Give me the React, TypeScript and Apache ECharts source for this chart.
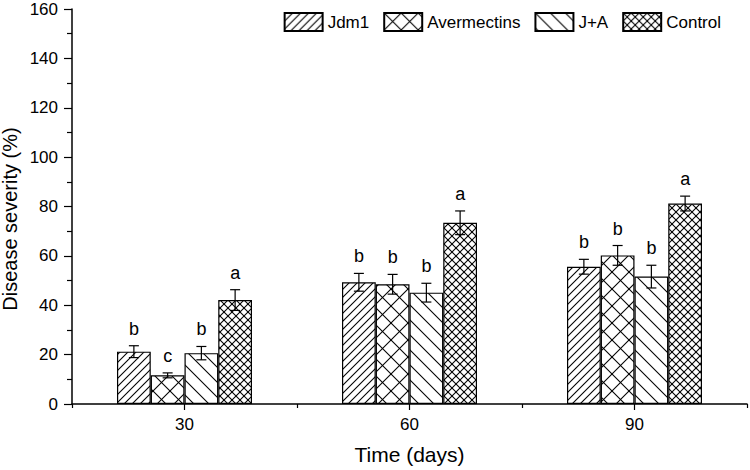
import React, { useEffect, useRef } from 'react';
import * as echarts from 'echarts';

const categories = ['30', '60', '90'];
const seriesNames = ['Jdm1', 'Avermectins', 'J+A', 'Control'];

const jdm1 = [21.2, 49.3, 55.6];
const jdm1Err = [2.4, 3.6, 3.0];
const jdm1Letters = ['b', 'b', 'b'];

const avermectins = [11.6, 48.5, 60.2];
const avermectinsErr = [1.0, 4.0, 4.0];
const avermectinsLetters = ['c', 'b', 'b'];

const ja = [20.6, 45.1, 51.6];
const jaErr = [2.7, 3.8, 4.6];
const jaLetters = ['b', 'b', 'b'];

const control = [42.1, 73.4, 81.2];
const controlErr = [4.2, 4.8, 3.0];
const controlLetters = ['a', 'a', 'a'];

const yMin = 0;
const yMax = 160;
const yInterval = 20;

const FONT = 'Arial, "Liberation Sans", sans-serif';

function makePattern(kind: 'fwd' | 'back' | 'cross', size: number) {
  const c = document.createElement('canvas');
  c.width = size;
  c.height = size;
  const ctx = c.getContext('2d')!;
  ctx.fillStyle = '#ffffff';
  ctx.fillRect(0, 0, size, size);
  ctx.strokeStyle = '#000000';
  ctx.lineWidth = 1.1;
  const fwd = () => {
    for (const o of [-size, 0, size]) {
      ctx.beginPath();
      ctx.moveTo(o - 1, size + 1);
      ctx.lineTo(o + size + 1, -1);
      ctx.stroke();
    }
  };
  const back = () => {
    for (const o of [-size, 0, size]) {
      ctx.beginPath();
      ctx.moveTo(o - 1, -1);
      ctx.lineTo(o + size + 1, size + 1);
      ctx.stroke();
    }
  };
  if (kind === 'fwd') fwd();
  else if (kind === 'back') back();
  else {
    fwd();
    back();
  }
  return {
    image: c.toDataURL(),
    repeat: 'repeat',
    imageWidth: size,
    imageHeight: size,
  } as any;
}

export default function App() {
  const ref = useRef<HTMLDivElement>(null);

  useEffect(() => {
    if (!ref.current) return;
    const chart = echarts.init(ref.current, null, { renderer: 'svg' });

    const patterns = [
      makePattern('fwd', 8),
      makePattern('cross', 17),
      makePattern('back', 15),
      makePattern('cross', 8),
    ];
    const values = [jdm1, avermectins, ja, control];
    const errs = [jdm1Err, avermectinsErr, jaErr, controlErr];
    const letters = [jdm1Letters, avermectinsLetters, jaLetters, controlLetters];

    const barSeries = seriesNames.map((name, idx) => ({
      type: 'bar',
      name,
      data: values[idx],
      barGap: '0%',
      barCategoryGap: '40%',
      itemStyle: {
        color: patterns[idx],
        borderColor: '#000',
        borderWidth: 1.2,
      },
      z: 2,
    }));

    const errSeries = seriesNames.map((name, idx) => ({
      type: 'custom',
      name: name + ' error',
      data: values[idx].map((v, i) => [i, v, errs[idx][i]]),
      z: 10,
      renderItem: (params: any, api: any) => {
        const ci = api.value(0);
        const v = api.value(1);
        const e = api.value(2);
        const letter = letters[idx][params.dataIndex];
        const catW = api.size([1, 0])[0];
        const bw = (catW * 0.6) / 4;
        const cx = api.coord([ci, 0])[0] + (idx - 1.5) * bw;
        const yTop = api.coord([ci, v + e])[1];
        const yBot = api.coord([ci, v - e])[1];
        const hw = 5;
        const ls = { stroke: '#000', lineWidth: 1.2 };
        return {
          type: 'group',
          children: [
            { type: 'line', shape: { x1: cx, y1: yTop, x2: cx, y2: yBot }, style: ls },
            { type: 'line', shape: { x1: cx - hw, y1: yTop, x2: cx + hw, y2: yTop }, style: ls },
            { type: 'line', shape: { x1: cx - hw, y1: yBot, x2: cx + hw, y2: yBot }, style: ls },
            {
              type: 'text',
              x: cx,
              y: yTop - 8,
              style: {
                text: letter,
                fill: '#000',
                font: `18px ${FONT}`,
                textAlign: 'center',
                textVerticalAlign: 'bottom',
              },
            },
          ],
        };
      },
    }));

    chart.setOption({
      animation: false,
      backgroundColor: '#ffffff',
      textStyle: { fontFamily: FONT, color: '#000' },
      grid: { left: 72, right: 3, top: 9, bottom: 66, containLabel: false },
      legend: {
        data: seriesNames,
        right: 29,
        top: 12,
        padding: 0,
        icon: 'rect',
        itemWidth: 38,
        itemHeight: 18,
        itemGap: 14,
        textStyle: { fontSize: 17, color: '#000', fontFamily: FONT },
      },
      xAxis: [
        {
          type: 'category',
          data: categories,
          name: 'Time (days)',
          nameLocation: 'middle',
          nameGap: 40,
          nameTextStyle: { fontSize: 21, color: '#000', fontFamily: FONT },
          axisLine: { show: true, lineStyle: { color: '#000', width: 1.5 } },
          axisTick: { show: true, alignWithLabel: true, length: 6, lineStyle: { color: '#000', width: 1.2 } },
          axisLabel: { fontSize: 17, color: '#000', margin: 12, fontFamily: FONT },
          splitLine: { show: false },
        },
        {
          type: 'category',
          data: categories,
          position: 'bottom',
          axisLine: { show: false },
          axisTick: { show: true, length: 4, lineStyle: { color: '#000', width: 1.2 } },
          axisLabel: { show: false },
          splitLine: { show: false },
        },
      ],
      yAxis: {
        type: 'value',
        min: yMin,
        max: yMax,
        interval: yInterval,
        axisLine: { show: true, lineStyle: { color: '#000', width: 1.5 } },
        axisTick: { show: true, length: 8, lineStyle: { color: '#000', width: 1.2 } },
        minorTick: { show: true, splitNumber: 2, length: 5, lineStyle: { color: '#000', width: 1.2 } },
        axisLabel: { fontSize: 17, color: '#000', margin: 14, fontFamily: FONT },
        splitLine: { show: false },
      },
      graphic: [
        {
          type: 'text',
          x: 10,
          y: 219,
          rotation: Math.PI / 2,
          style: {
            text: 'Disease severity (%)',
            font: `20px ${FONT}`,
            fill: '#000',
            textAlign: 'center',
            textVerticalAlign: 'middle',
          },
        },
      ],
      series: [...barSeries, ...errSeries],
    });

    return () => chart.dispose();
  }, []);

  return (
    <div
      ref={ref}
      style={{ position: 'fixed', left: 0, top: 0, width: 750, height: 470, background: '#fff' }}
    />
  );
}
